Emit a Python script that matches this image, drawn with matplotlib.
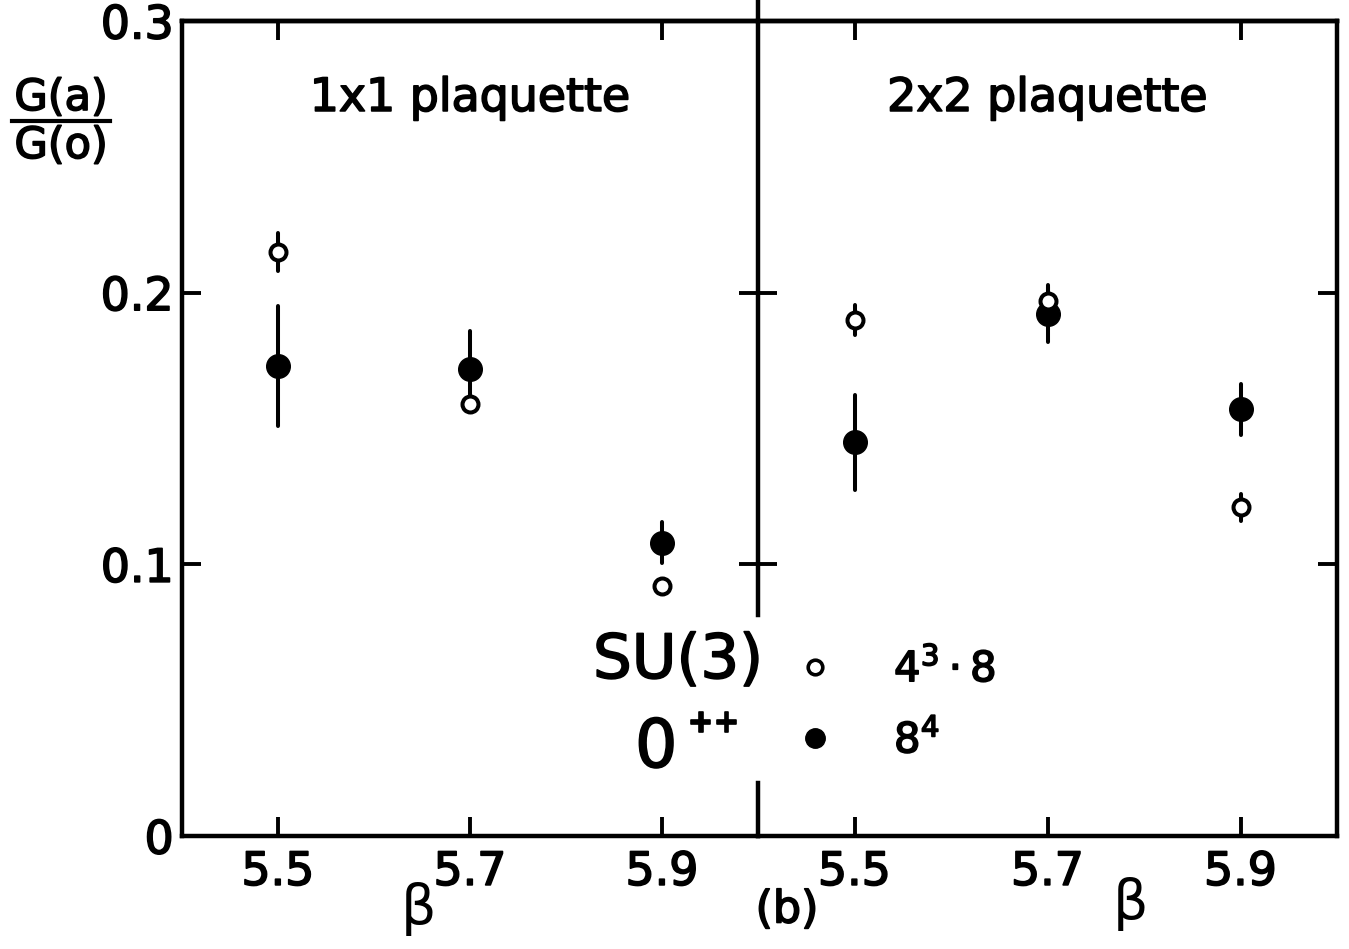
import matplotlib
matplotlib.use("Agg")
import matplotlib.pyplot as plt
from matplotlib import patheffects
from matplotlib.lines import Line2D

# lattice coupling
beta = [5.5, 5.7, 5.9]

# 1x1 plaquette: G(a)/G(0)
su3_1x1 = [0.215, 0.159, 0.092]
su3_1x1_err = [0.007, 0.0, 0.0]
glue_1x1 = [0.173, 0.172, 0.108]
glue_1x1_err = [0.022, 0.014, 0.0076]

# 2x2 plaquette
su3_2x2 = [0.190, 0.197, 0.121]
su3_2x2_err = [0.0055, 0.006, 0.005]
glue_2x2 = [0.145, 0.192, 0.157]
glue_2x2_err = [0.0175, 0.010, 0.0094]

panel_titles = ["1x1 plaquette", "2x2 plaquette"]
x_ticks = [5.5, 5.7, 5.9]
x_ticklabels = ["5.5", "5.7", "5.9"]
top_ticks = [5.5, 5.9]
y_ticks = [0, 0.1, 0.2, 0.3]
y_ticklabels = ["0", "0.1", "0.2", "0.3"]
legend_labels = [r"$\mathregular{4^3\cdot8}$", r"$\mathregular{8^4}$"]

plt.rcParams["font.family"] = ["DejaVu Sans"]
plt.rcParams["mathtext.fontset"] = "dejavusans"

INK = "black"
SPINE_W = 3.2
thick = [patheffects.withStroke(linewidth=1.2, foreground=INK)]

W, H = 1349, 949
L, M, R = 182, 758, 1337
T, B = 21, 836

fig = plt.figure(figsize=(W / 100, H / 100), dpi=100)
ax1 = fig.add_axes([L / W, 1 - B / H, (M - L) / W, (B - T) / H])
ax2 = fig.add_axes([M / W, 1 - B / H, (R - M) / W, (B - T) / H])


def draw_panel(ax, su3, su3_err, glue, glue_err, title):
    ax.set_xlim(5.4, 6.0)
    ax.set_ylim(0, 0.3)
    for sp in ax.spines.values():
        sp.set_linewidth(SPINE_W)
        sp.set_capstyle("projecting")

    eb = ax.errorbar(beta, glue, yerr=glue_err, fmt="o", ms=17, mfc=INK, mec=INK,
                     ecolor=INK, elinewidth=2.9, capsize=0, zorder=3)
    for c in eb[2]:
        c.set_capstyle("round")
    eb = ax.errorbar(beta, su3, yerr=su3_err, fmt="o", ms=11.5, mfc="white", mec=INK,
                     mew=2.9, ecolor=INK, elinewidth=2.9, capsize=0, zorder=4)
    for c in eb[2]:
        c.set_capstyle("round")

    ax.set_xticks(x_ticks)
    ax.set_xticklabels(x_ticklabels, fontsize=33)
    ax.tick_params(axis="x", direction="in", length=14, width=2.8, pad=10, top=False)
    for lab in ax.get_xticklabels():
        lab.set_path_effects(thick)

    sec = ax.secondary_xaxis("top")
    sec.set_xticks(top_ticks)
    sec.tick_params(direction="in", length=14, width=2.8, labeltop=False)
    sec.spines["top"].set_linewidth(SPINE_W)

    ax.text(0.5, 0.905, title, transform=ax.transAxes, ha="center", va="center",
            fontsize=33, path_effects=thick)


draw_panel(ax1, su3_1x1, su3_1x1_err, glue_1x1, glue_1x1_err, panel_titles[0])
draw_panel(ax2, su3_2x2, su3_2x2_err, glue_2x2, glue_2x2_err, panel_titles[1])

# y axis: labels on the outer left only, inward ticks on both sides of each panel
ax1.spines["right"].set_visible(False)
ax2.spines["left"].set_visible(False)
ax1.set_yticks(y_ticks)
ax1.set_yticklabels(y_ticklabels, fontsize=33)
ax1.tick_params(axis="y", direction="in", length=14, width=2.8, pad=6, right=True)
for lab in ax1.get_yticklabels():
    lab.set_path_effects(thick)
ax2.set_yticks([0.1, 0.2])
ax2.tick_params(axis="y", direction="in", length=14, width=2.8, left=True, right=True,
                labelleft=False)

# divider between panels, broken where the key sits
ax2.axvline(5.4, ymin=(B - 615) / (B - T), ymax=1.025, color=INK, lw=SPINE_W, clip_on=False)
ax2.axvline(5.4, ymin=0, ymax=(B - 783) / (B - T), color=INK, lw=SPINE_W, clip_on=False)

# axis labels
ax1.set_xlabel("β", fontsize=40)
ax1.xaxis.set_label_coords((418 - L) / (M - L), -0.056)
ax2.set_xlabel("β", fontsize=40)
ax2.xaxis.set_label_coords((1130 - M) / (R - M), -0.05)
fig.text(787 / W, 1 - 910 / H, "(b)", ha="center", va="center", fontsize=32,
         path_effects=thick)

fig.text(61 / W, 1 - 98 / H, "G(a)", ha="center", va="center", fontsize=31, path_effects=thick)
fig.text(61 / W, 1 - 146 / H, "G(o)", ha="center", va="center", fontsize=31, path_effects=thick)
fig.add_artist(Line2D([12 / W, 110 / W], [1 - 121 / H, 1 - 121 / H], lw=3, color=INK))

# key
fig.text(593 / W, 1 - 678 / H, "SU(3)", ha="left", va="baseline", fontsize=44,
         path_effects=thick)
fig.text(635 / W, 1 - 767 / H, "0", ha="left", va="baseline", fontsize=48,
         path_effects=thick)
fig.text(688 / W, 1 - 723 / H, "++", ha="left", va="center", fontsize=22,
         fontweight="bold", path_effects=thick)

h_open = Line2D([], [], ls="none", marker="o", ms=10.5, mfc="white", mec=INK, mew=2.6)
h_full = Line2D([], [], ls="none", marker="o", ms=14, mfc=INK, mec=INK)
leg = fig.legend([h_open, h_full], legend_labels, loc="upper left",
                 bbox_to_anchor=(794 / W, 1 - 648 / H), frameon=False, fontsize=30,
                 handlelength=1.0, handletextpad=1.4, labelspacing=0.7,
                 borderpad=0, borderaxespad=0)
for t in leg.get_texts():
    t.set_path_effects(thick)

fig.savefig("out.png", dpi=100, facecolor="white")
